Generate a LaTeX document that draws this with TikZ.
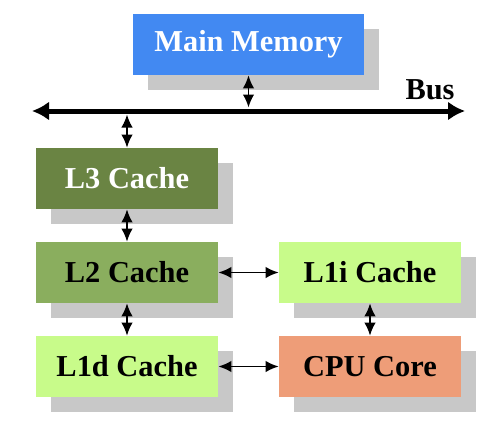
\documentclass[tikz,border=0pt]{standalone}
\usepackage{fontspec}
\setmainfont{Liberation Serif}
\usetikzlibrary{arrows.meta,shadows}
\definecolor{memblue}{HTML}{4289F2}
\definecolor{lthree}{HTML}{6A8443}
\definecolor{ltwo}{HTML}{8AAE5E}
\definecolor{lone}{HTML}{C8FB8A}
\definecolor{core}{HTML}{EE9D78}
\definecolor{shade}{HTML}{C8C8C8}
\tikzset{every node/.style={shape=rectangle, font=\fontsize{17.3}{20}\selectfont\bfseries}}
\tikzset{unit/.style={minimum width=3.64cm, minimum height=1.22cm,
  drop shadow={shadow xshift=0.3cm, shadow yshift=-0.3cm, fill=shade, opacity=1}}}
\tikzset{link/.style={{Latex[length=2.6mm,width=2.3mm]}-{Latex[length=2.6mm,width=2.3mm]}, line width=1pt}}

\begin{document}
\begin{tikzpicture}[node distance = 1.88cm]
  \useasboundingbox (0,0) rectangle (10,-8.72);
  \node (MM) [unit, minimum width=4.62cm, fill=memblue, text=white] at (4.97,-0.89) {Main Memory};
  \node (L3) [unit, fill=lthree, text=white] at (2.54,-3.57) {L3 Cache};
  \node (L2) [unit, fill=ltwo, below of = L3] {L2 Cache};
  \node (L1d) [unit, fill=lone, below of = L2] {L1d Cache};
  \node (L1i) [unit, fill=lone, right of = L2, node distance = 4.86cm] {L1i Cache};
  \node (CPU) [unit, fill=core, below of = L1i] {CPU Core};

  % the bus
  \coordinate (busL) at (0.64,-2.22);
  \coordinate (busR) at (9.3,-2.22);
  \draw [{Latex[length=3.4mm,width=3.8mm]}-{Latex[length=3.4mm,width=3.8mm]}, line width=0.1cm] (busL) -- (busR);
  \node (bus) [anchor=base] at (8.6,-1.98) {Bus};

  \draw [link] (MM.south) -- ([yshift=0.07cm]MM.south |- busL);
  \draw [link] ([yshift=-0.07cm]L3.north |- busL) -- (L3.north);
  \draw [link] (L3) -- (L2);
  \draw [link] (L2) -- (L1d);
  \draw [link] (L2) -- (L1i);
  \draw [link] (L1i) -- (CPU);
  \draw [link] (L1d) -- (CPU);
\end{tikzpicture}
\end{document}
